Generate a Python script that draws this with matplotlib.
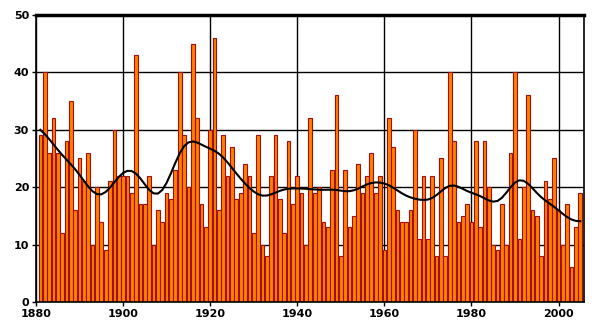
import numpy as np
import matplotlib
matplotlib.use("Agg")
import matplotlib.pyplot as plt

# yearly counts, 1881-2005
years = np.arange(1881, 2006)
counts = [
    29, 40, 26, 32, 26, 12, 28, 35, 16, 25,
    21, 26, 10, 20, 14, 9, 21, 30, 22, 22,
    22, 19, 43, 17, 17, 22, 10, 16, 14, 19,
    18, 23, 40, 29, 20, 45, 32, 17, 13, 30,
    46, 16, 29, 22, 27, 18, 19, 24, 22, 12,
    29, 10, 8, 22, 29, 18, 12, 28, 17, 22,
    19, 10, 32, 19, 20, 14, 13, 23, 36, 8,
    23, 13, 15, 24, 19, 22, 26, 19, 22, 9,
    32, 27, 16, 14, 14, 16, 30, 11, 22, 11,
    22, 8, 25, 8, 40, 28, 14, 15, 17, 14,
    28, 13, 28, 20, 10, 9, 17, 10, 26, 40,
    11, 20, 36, 16, 15, 8, 21, 18, 25, 16,
    10, 17, 6, 13, 19,
]
x_ticks = [1880, 1900, 1920, 1940, 1960, 1980, 2000]
y_ticks = [0, 10, 20, 30, 40, 50]

# smoothed curve: gaussian weighted running mean of the counts
vals = np.array(counts, dtype=float)
sigma = 3.0
smooth = []
for y in years:
    w = np.exp(-0.5 * ((years - y) / sigma) ** 2)
    smooth.append(np.sum(w * vals) / np.sum(w))

fig = plt.figure(figsize=(6, 3.3), dpi=100)
ax = fig.add_axes([0.06, 0.085, 0.913, 0.87])

ax.bar(years, counts, width=0.85, color="#ff7f00", edgecolor="#a01010",
       linewidth=0.8, zorder=2)
ax.plot(years, smooth, color="black", linewidth=1.5, zorder=3)

ax.set_xlim(1880, 2005.8)
ax.set_ylim(0, 50)
ax.set_xticks(x_ticks)
ax.set_yticks(y_ticks)
ax.grid(True, color="black", linewidth=1.0, zorder=1)
ax.set_axisbelow(True)
for side in ["left", "right", "bottom"]:
    ax.spines[side].set_linewidth(1.2)
ax.spines["top"].set_linewidth(2.5)
ax.tick_params(length=3, width=1, labelsize=8, pad=2)
for lab in ax.get_xticklabels() + ax.get_yticklabels():
    lab.set_fontweight("bold")

fig.savefig("out.png", dpi=100)
